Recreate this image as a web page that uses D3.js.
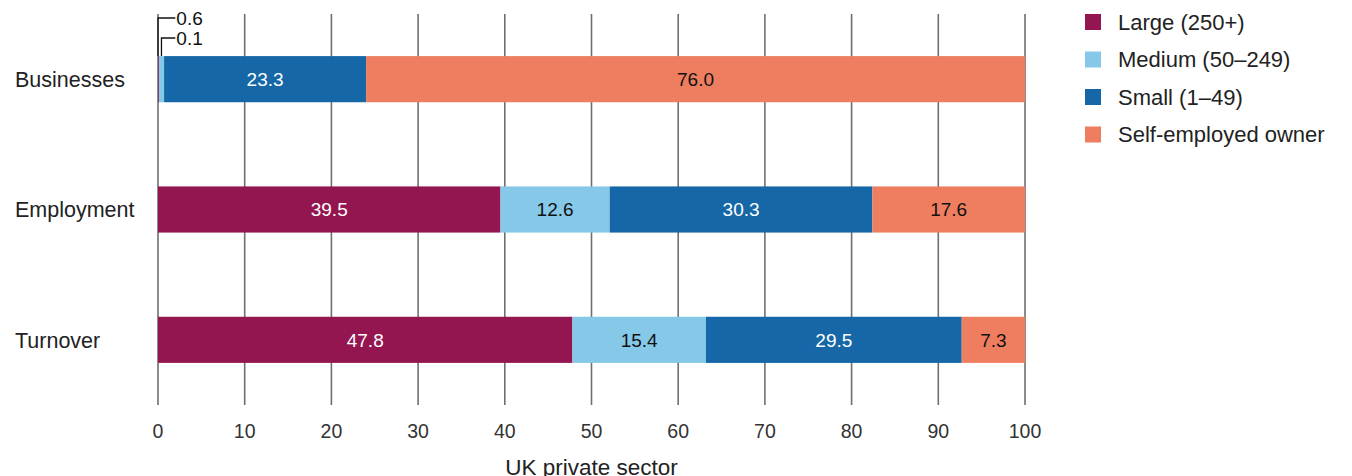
<!DOCTYPE html>
<html>
<head>
<meta charset="utf-8">
<script src="https://cdn.jsdelivr.net/npm/d3@7"></script>
<style>
  body { margin: 0; background: #fff; }
  text { font-family: "Liberation Sans", Arial, sans-serif; }
</style>
</head>
<body>
<div id="chart"></div>
<script>
// categories and series
const categories = ["Businesses", "Employment", "Turnover"]
const seriesNames = ["Large (250+)", "Medium (50–249)", "Small (1–49)", "Self-employed owner"]
const large = [0.1, 39.5, 47.8]
const medium = [0.6, 12.6, 15.4]
const small = [23.3, 30.3, 29.5]
const selfEmployed = [76.0, 17.6, 7.3]
const xTicks = [0, 10, 20, 30, 40, 50, 60, 70, 80, 90, 100]
const colors = ["#941651", "#85c8e8", "#1567a7", "#ee7e5f"]
const labelColors = ["#fff", "#111", "#fff", "#111"]

const width = 1352, height = 476
const plot = {left: 158, right: 1025, top: 14, bottom: 405}

const svg = d3.select("#chart")
  .append("svg")
    .attr("width", width)
    .attr("height", height)

const x = d3.scaleLinear().domain([0, 100]).range([plot.left, plot.right])
const y = d3.scaleBand()
  .domain(categories)
  .range([plot.top, plot.bottom])
  .paddingInner(0.646)
  .paddingOuter(0.323)

// stacked table
const table = categories.map((c, i) => ({
  cat: c, s0: large[i], s1: medium[i], s2: small[i], s3: selfEmployed[i]
}))
const stack = d3.stack().keys(["s0", "s1", "s2", "s3"])(table)

// gridlines
svg.append("g")
  .selectAll("line")
  .data(xTicks)
  .enter()
  .append("line")
    .attr("x1", d => x(d)).attr("x2", d => x(d))
    .attr("y1", plot.top).attr("y2", plot.bottom)
    .attr("stroke", "#6f6f6f")
    .attr("stroke-width", 1.6)

// bars
const layers = svg.append("g")
  .selectAll("g")
  .data(stack)
  .enter()
  .append("g")
    .attr("fill", (d, i) => colors[i])

layers.selectAll("rect")
  .data(d => d)
  .enter()
  .append("rect")
    .attr("x", d => x(d[0]))
    .attr("y", d => y(d.data.cat))
    .attr("width", d => x(d[1]) - x(d[0]))
    .attr("height", y.bandwidth())

// value labels inside bars (skip tiny segments)
stack.forEach((layer, li) => {
  svg.append("g")
    .selectAll("text")
    .data(layer.filter(d => d[1] - d[0] > 3))
    .enter()
    .append("text")
      .attr("x", d => (x(d[0]) + x(d[1])) / 2)
      .attr("y", d => y(d.data.cat) + y.bandwidth() / 2)
      .attr("dy", "0.36em")
      .attr("text-anchor", "middle")
      .attr("font-size", 19)
      .attr("fill", labelColors[li])
      .text(d => (d[1] - d[0]).toFixed(1))
})

// callouts for the tiny Businesses segments
const bTop = y("Businesses")
const ann = svg.append("g").attr("stroke", "#111").attr("stroke-width", 1.3).attr("fill", "none")
ann.append("path")
  .attr("d", `M${x(0)},${bTop} V18 H${x(2)}`)
ann.append("path")
  .attr("d", `M${x(large[0] + medium[0] / 2)},${bTop} V38 H${x(2)}`)
svg.append("text")
  .attr("x", x(2) + 1).attr("y", 18).attr("dy", "0.36em")
  .attr("font-size", 19).attr("fill", "#111")
  .text(medium[0].toFixed(1))
svg.append("text")
  .attr("x", x(2) + 1).attr("y", 38).attr("dy", "0.36em")
  .attr("font-size", 19).attr("fill", "#111")
  .text(large[0].toFixed(1))

// category labels
svg.append("g")
  .selectAll("text")
  .data(categories)
  .enter()
  .append("text")
    .attr("x", 15)
    .attr("y", d => y(d) + y.bandwidth() / 2)
    .attr("dy", "0.36em")
    .attr("font-size", 21.5)
    .attr("fill", "#222")
    .text(d => d)

// x axis tick labels
svg.append("g")
  .selectAll("text")
  .data(xTicks)
  .enter()
  .append("text")
    .attr("x", d => x(d))
    .attr("y", 431)
    .attr("dy", "0.36em")
    .attr("text-anchor", "middle")
    .attr("font-size", 19.5)
    .attr("fill", "#333")
    .text(d => d)

svg.append("text")
  .attr("x", (plot.left + plot.right) / 2)
  .attr("y", 467)
  .attr("dy", "0.36em")
  .attr("text-anchor", "middle")
  .attr("font-size", 22.5)
  .attr("fill", "#222")
  .text("UK private sector")

// legend
const legend = svg.append("g")
  .selectAll("g")
  .data(seriesNames)
  .enter()
  .append("g")
    .attr("transform", (d, i) => `translate(1085,${22 + i * 37.5})`)
legend.append("rect")
  .attr("x", 0).attr("y", -8)
  .attr("width", 16).attr("height", 16)
  .attr("fill", (d, i) => colors[i])
legend.append("text")
  .attr("x", 33)
  .attr("dy", "0.36em")
  .attr("font-size", 22)
  .attr("fill", "#222")
  .text(d => d)
</script>
</body>
</html>
